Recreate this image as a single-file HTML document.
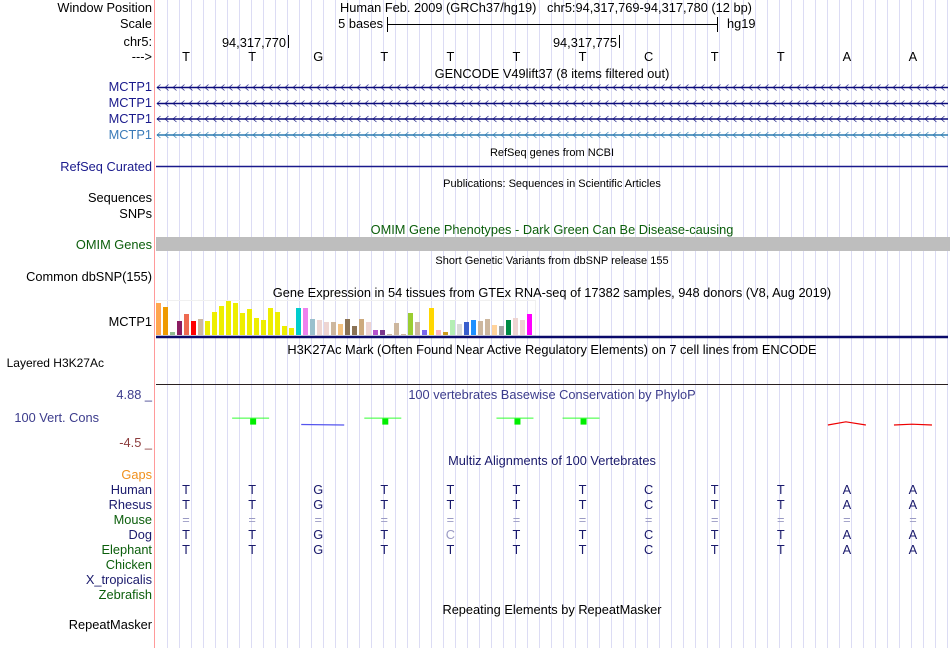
<!DOCTYPE html>
<html><head><meta charset="utf-8">
<style>
html,body{margin:0;padding:0;background:#fff;}
svg{display:block;font-family:"Liberation Sans",sans-serif;}
</style></head>
<body>
<svg id="chart" width="950" height="648" viewBox="0 0 950 648">
<g id="grid"></g>
<line x1="154.5" y1="0" x2="154.5" y2="648" stroke="#ff9a9a" stroke-width="1"/>
<g font-size="12.8" text-anchor="end">
<text x="152" y="12" fill="#000">Window Position</text>
<text x="152" y="28" fill="#000">Scale</text>
<text x="152" y="46" fill="#000">chr5:</text>
<text x="152" y="61" fill="#000">---&gt;</text>
<text x="152" y="91" fill="#1a1a8c">MCTP1</text>
<text x="152" y="107" fill="#1a1a8c">MCTP1</text>
<text x="152" y="123" fill="#1a1a8c">MCTP1</text>
<text x="152" y="139" fill="#3a7ab8">MCTP1</text>
<text x="152" y="171" fill="#1a1a8c">RefSeq Curated</text>
<text x="152" y="202" fill="#000">Sequences</text>
<text x="152" y="218" fill="#000">SNPs</text>
<text x="152" y="249" fill="#0b5e0b">OMIM Genes</text>
<text x="152" y="281" fill="#000">Common dbSNP(155)</text>
<text x="152" y="326" fill="#000">MCTP1</text>
<text x="104" y="367" fill="#000" font-size="12">Layered H3K27Ac</text>
<text x="152" y="399" fill="#3c3c8c">4.88 _</text>
<text x="99" y="422" fill="#3c3c8c">100 Vert. Cons</text>
<text x="152" y="447" fill="#8c3c3c">-4.5 _</text>
<text x="152" y="479" fill="#f0901c">Gaps</text>
<text x="152" y="629" fill="#000">RepeatMasker</text>
</g>
<g id="species" font-size="12.8" text-anchor="end"></g>
<g font-size="12.8" text-anchor="middle" fill="#000">
<text x="546" y="12">Human Feb. 2009 (GRCh37/hg19)&#160;&#160;&#160;chr5:94,317,769-94,317,780 (12 bp)</text>
<text x="552" y="78">GENCODE V49lift37 (8 items filtered out)</text>
<text x="552" y="156" font-size="11">RefSeq genes from NCBI</text>
<text x="552" y="187" font-size="11">Publications: Sequences in Scientific Articles</text>
<text x="552" y="234" fill="#0b5e0b">OMIM Gene Phenotypes - Dark Green Can Be Disease-causing</text>
<text x="552" y="264" font-size="11">Short Genetic Variants from dbSNP release 155</text>
<text x="552" y="297">Gene Expression in 54 tissues from GTEx RNA-seq of 17382 samples, 948 donors (V8, Aug 2019)</text>
<text x="552" y="354">H3K27Ac Mark (Often Found Near Active Regulatory Elements) on 7 cell lines from ENCODE</text>
<text x="552" y="399" fill="#3c3c8c">100 vertebrates Basewise Conservation by PhyloP</text>
<text x="552" y="465" fill="#1a1a6c">Multiz Alignments of 100 Vertebrates</text>
<text x="552" y="614">Repeating Elements by RepeatMasker</text>
</g>
<g font-size="12.8" fill="#000">
<text x="383" y="28" text-anchor="end">5 bases</text>
<line x1="387" y1="24.5" x2="717" y2="24.5" stroke="#000"/>
<line x1="387.5" y1="17" x2="387.5" y2="32" stroke="#000"/>
<line x1="717.5" y1="17" x2="717.5" y2="32" stroke="#000"/>
<text x="727" y="28">hg19</text>
<text x="286" y="47" text-anchor="end">94,317,770</text>
<line x1="288.5" y1="35" x2="288.5" y2="48" stroke="#000"/>
<text x="617" y="47" text-anchor="end">94,317,775</text>
<line x1="619.5" y1="35" x2="619.5" y2="48" stroke="#000"/>
</g>
<rect x="156" y="237" width="794" height="14" fill="#bebebe"/>
<line x1="156" y1="166.5" x2="948" y2="166.5" stroke="#1a1a8c" stroke-width="1.5"/>
<rect x="156.5" y="300.5" width="379" height="35" fill="none" stroke="#f0f0f0"/>
<line x1="156" y1="337" x2="948" y2="337" stroke="#0a0a6a" stroke-width="2.5"/>
<line x1="156" y1="384.5" x2="948" y2="384.5" stroke="#2a2020" stroke-width="1"/>
<g id="genes"></g>
<g id="bases" font-size="12.8" text-anchor="middle"></g>
<g id="gtex"></g>
<g id="phylop"></g>
<g id="multiz" font-size="12.8" text-anchor="middle"></g>
</svg>
<script>
const refBases = ["T","T","G","T","T","T","T","C","T","T","A","A"];
const gtexValues = [32,28,3,14,21,14,16,14,23,29,34,32,22,26,17,15,27,23,9,7,27,27,16,15,13,13,11,16,9,16,13,5,5,1,12,1,22,13,5,27,5,3,15,11,13,15,14,16,10,9,15,17,15,21];
const gtexColors = ["#FFA54F","#EE9A00","#8FBC8F","#8B1C62","#EE6A50","#FF0000","#CDB79E","#EEEE00","#EEEE00","#EEEE00","#EEEE00","#EEEE00","#EEEE00","#EEEE00","#EEEE00","#EEEE00","#EEEE00","#EEEE00","#EEEE00","#EEEE00","#00CDCD","#EE82EE","#9AC0CD","#EED5D2","#EED5D2","#CDB79E","#F4C27F","#8B7355","#8B7355","#CDAA7D","#EED5D2","#B452CD","#7A378B","#CDB79E","#CDB79E","#CDB79E","#9ACD32","#CDB79E","#7B68EE","#FFD700","#FFB6C1","#CD9B1D","#B4EEB4","#D9D9D9","#3A5FCD","#1E90FF","#CDB79E","#CDB79E","#FFD39B","#A6A6A6","#008B45","#EED5D2","#EED5D2","#FF00FF"];
const phylopValues = [0,0.6,-0.3,0.6,0,0.6,0.6,0,0,0,-0.8,-0.2];
const speciesNames = ["Human","Rhesus","Mouse","Dog","Elephant","Chicken","X_tropicalis","Zebrafish"];
const speciesColors = ["#1a1a6c","#1a1a6c","#0b5e0b","#1a1a6c","#0b5e0b","#0b5e0b","#1a1a6c","#0b5e0b"];
const speciesSeqs = ["TTGTTTTCTTAA","TTGTTTTCTTAA","============","TTGTCTTCTTAA","TTGTTTTCTTAA","","",""];
const ns = "http://www.w3.org/2000/svg";
const x0 = 153, x1 = 946, nBases = refBases.length;
const bw = (x1 - x0) / nBases;
const xBase = i => x0 + bw * (i + 0.5);
function mk(tag, parent, attrs){const e=document.createElementNS(ns,tag);for(const k in attrs)e.setAttribute(k,attrs[k]);parent.appendChild(e);return e;}

const grid = document.getElementById('grid');
for (let gx = 167.5; gx < 950; gx += 12) {
  const l = mk('line', grid, {x1:gx,y1:0,x2:gx,y2:648,stroke:'#dcdcf4','stroke-width':1});
  
  
}
const basesG = document.getElementById('bases');
refBases.forEach((b,i)=>{
  const t = mk('text', basesG, {x:xBase(i), y:61, fill:'#000'});
  t.textContent = b;
  
  
});
const genesG = document.getElementById('genes');
const geneYs = [87.5,103.5,119,135];
const geneCols = ['#0a0a7a','#0a0a7a','#0a0a7a','#2a7ab0'];
geneYs.forEach((gy,k)=>{
  const g = mk('g', genesG, {});
  
  
  mk('line', g, {x1:157,y1:gy,x2:948,y2:gy,stroke:geneCols[k],'stroke-width':1.5});
  let d='';
  for (let ax=157; ax<946; ax+=8) d += `M${ax+3.5},${gy-3}L${ax},${gy}L${ax+3.5},${gy+3}`;
  mk('path', g, {d:d,stroke:geneCols[k],fill:'none','stroke-width':0.8,opacity:0.85});
});
const gtexG = document.getElementById('gtex');
const gBase = 335, pitch = 7;
gtexValues.forEach((v,i)=>{
  const r = mk('rect', gtexG, {x:156+i*pitch, y:gBase-v, width:5, height:v, fill:gtexColors[i]});
  
  
});
const phG = document.getElementById('phylop');
const yPh = v => 421 + (v>0 ? -1 : 1) * Math.abs(v)*4;
phylopValues.forEach((v,i)=>{
  if (v === 0) return;
  const cx = xBase(i);
  const g = mk('g', phG, {});
  
  
  if (v > 0) {
    mk('line', g, {x1:cx-20,y1:yPh(v)-0.5,x2:cx+17,y2:yPh(v)-0.5,stroke:'#33ff33','stroke-width':1});
    mk('rect', g, {x:cx-2,y:yPh(v),width:6,height:6,fill:'#00ee00'});
  } else if (v > -0.5 && i < 5) {
    mk('path', g, {d:`M${cx-17},${424.5}L${cx+26},${425}`,stroke:'#5555ee','stroke-width':1.2,fill:'none'});
  } else {
    const py = 425 - Math.abs(v)*4;
    mk('path', g, {d:`M${cx-19},${425}L${cx-1},${py}L${cx+19},${425}`,stroke:'#ee0000','stroke-width':1.2,fill:'none'});
  }
});
const spG = document.getElementById('species');
const mzG = document.getElementById('multiz');
speciesNames.forEach((n,k)=>{
  const yy = 494 + k*15;
  const t = mk('text', spG, {x:152, y:yy, fill:speciesColors[k]});
  t.textContent = n;
  
  
  const seq = speciesSeqs[k];
  for (let i=0;i<seq.length;i++){
    const diff = seq[i] !== refBases[i];
    const tt = mk('text', mzG, {x:xBase(i), y:yy, fill: (seq[i]==='=' || diff) ? '#9a9ac4' : '#1a1a6c'});
    tt.textContent = seq[i];
    
    
  }
});
</script>
</body></html>
